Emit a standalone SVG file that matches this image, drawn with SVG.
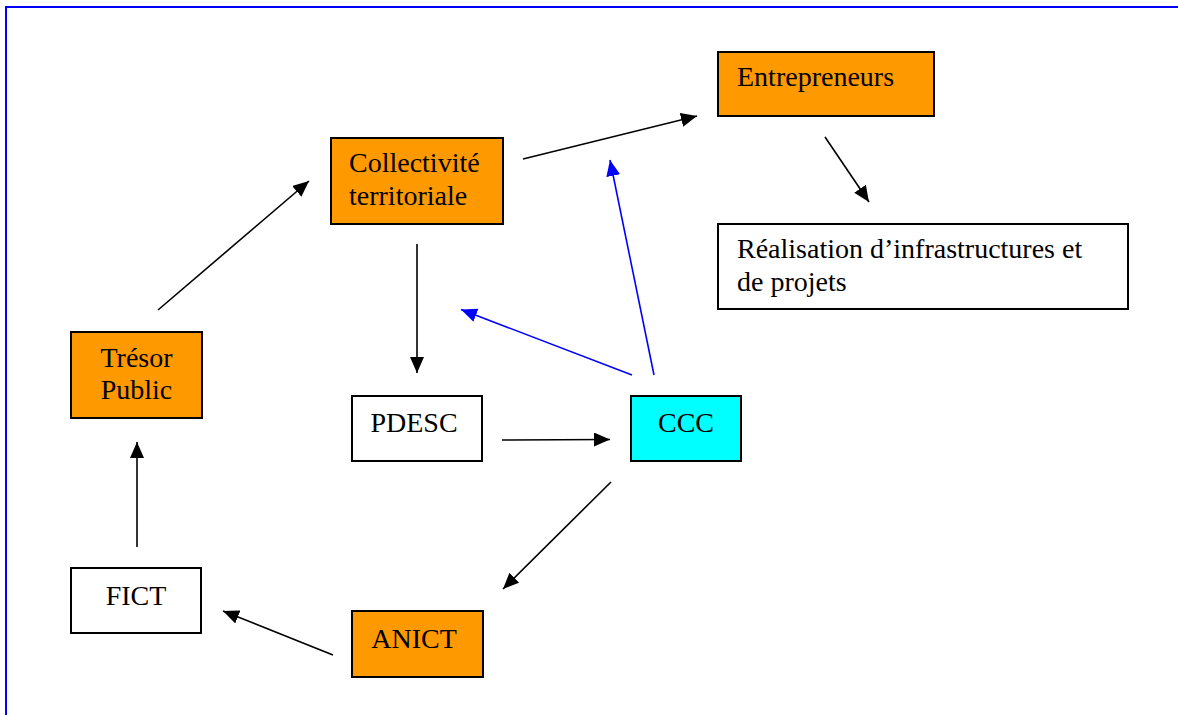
<svg xmlns="http://www.w3.org/2000/svg" width="1178" height="715" viewBox="0 0 1178 715">
<style>
.box{stroke:#000;stroke-width:2}
.org{fill:#ff9900}
.wht{fill:#ffffff}
.cyan{fill:#00ffff}
.t{font-family:"Liberation Serif","Times New Roman","DejaVu Serif",serif;font-size:28px;fill:#000}
.c{text-anchor:middle}
.k{stroke:#000;stroke-width:1.6;fill:none}
.b{stroke:#0000ff;stroke-width:1.6;fill:none}
</style>
<defs>
<marker id="ak" markerUnits="userSpaceOnUse" markerWidth="17" markerHeight="15" refX="16" refY="7" orient="auto">
<path d="M0,0 L16,7 L0,14 z" fill="#000"/>
</marker>
<marker id="ab" markerUnits="userSpaceOnUse" markerWidth="17" markerHeight="15" refX="16" refY="7" orient="auto">
<path d="M0,0 L16,7 L0,14 z" fill="#0000ff"/>
</marker>
</defs>
<rect x="0" y="0" width="1178" height="715" fill="#fff"/>
<path d="M6,716 L6,7 L1180,7" fill="none" stroke="#0000ff" stroke-width="2"/>

<g id="collectivite">
<rect class="box org" x="331" y="138" width="172" height="86"/>
<text class="t" x="349" y="172">Collectivité</text>
<text class="t" x="349" y="205">territoriale</text>
</g>
<g id="entrepreneurs">
<rect class="box org" x="718" y="52" width="216" height="64"/>
<text class="t" x="737" y="86">Entrepreneurs</text>
</g>
<g id="realisation">
<rect class="box wht" x="718" y="224" width="410" height="85"/>
<text class="t" x="737" y="258">Réalisation d’infrastructures et</text>
<text class="t" x="737" y="291">de projets</text>
</g>
<g id="tresor">
<rect class="box org" x="71" y="332" width="131" height="86"/>
<text class="t c" x="136.5" y="366.5">Trésor</text>
<text class="t c" x="136.5" y="399">Public</text>
</g>
<g id="pdesc">
<rect class="box wht" x="352" y="396" width="130" height="65"/>
<text class="t c" x="414" y="431.5">PDESC</text>
</g>
<g id="ccc">
<rect class="box cyan" x="631" y="396" width="110" height="65"/>
<text class="t c" x="686" y="432">CCC</text>
</g>
<g id="fict">
<rect class="box wht" x="71" y="568" width="130" height="65"/>
<text class="t c" x="136" y="605">FICT</text>
</g>
<g id="anict">
<rect class="box org" x="352" y="611" width="131" height="66"/>
<text class="t c" x="414" y="648">ANICT</text>
</g>

<g id="connectors">
<line class="k" x1="158" y1="310" x2="309" y2="181" marker-end="url(#ak)"/>
<line class="k" x1="523" y1="159" x2="697" y2="116" marker-end="url(#ak)"/>
<line class="k" x1="825" y1="137" x2="869" y2="202" marker-end="url(#ak)"/>
<line class="k" x1="417" y1="244" x2="417" y2="373" marker-end="url(#ak)"/>
<line class="k" x1="502" y1="440" x2="610" y2="439.5" marker-end="url(#ak)"/>
<line class="k" x1="611" y1="482" x2="503" y2="589" marker-end="url(#ak)"/>
<line class="k" x1="333" y1="655" x2="223" y2="611" marker-end="url(#ak)"/>
<line class="k" x1="137" y1="547" x2="137" y2="442" marker-end="url(#ak)"/>
<line class="b" x1="632" y1="375" x2="461" y2="309.5" marker-end="url(#ab)"/>
<line class="b" x1="654" y1="375" x2="610" y2="160" marker-end="url(#ab)"/>
</g>
</svg>
